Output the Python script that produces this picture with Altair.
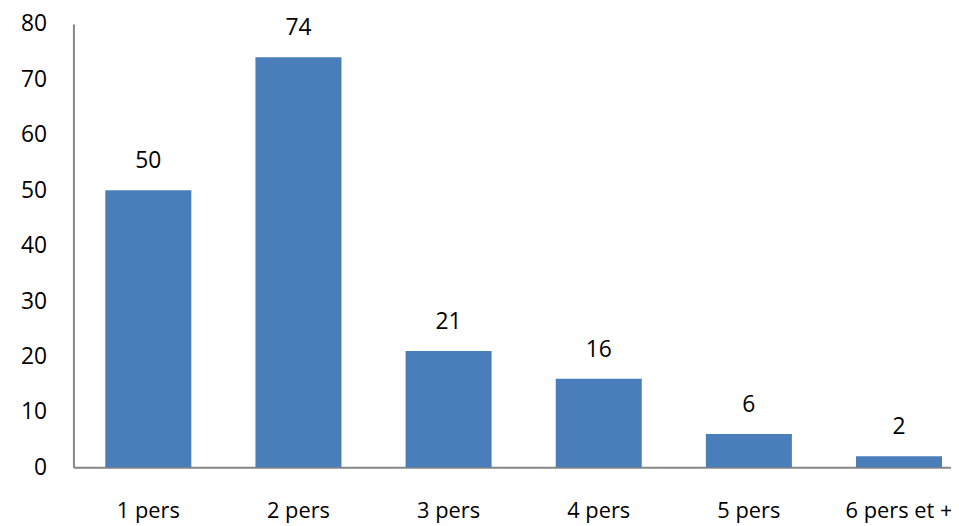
import altair as alt
import pandas as pd

categories = ["1 pers", "2 pers", "3 pers", "4 pers", "5 pers", "6 pers et +"]
values = [50, 74, 21, 16, 6, 2]
y_ticks = [0, 10, 20, 30, 40, 50, 60, 70, 80]

df = pd.DataFrame({"cat": categories, "val": values})

FONT = "Open Sans"
FS = 23

x = alt.X(
    "cat:N",
    sort=categories,
    title=None,
    scale=alt.Scale(paddingInner=0.427, paddingOuter=0.136, align=0.78),
    axis=alt.Axis(
        labelAngle=0, labelFont=FONT, labelFontSize=22, labelColor="#000000",
        labelPadding=34, ticks=False, domainColor="#868686", domainWidth=2,
        labelBaseline="top",
    ),
)
y = alt.Y(
    "val:Q",
    title=None,
    scale=alt.Scale(domain=[0, 80], nice=False),
    axis=alt.Axis(
        values=y_ticks, grid=False, ticks=False, labelFont=FONT,
        labelFontSize=FS, labelColor="#000000", labelPadding=27,
        domainColor="#868686", domainWidth=2,
    ),
)

bars = alt.Chart(df).mark_bar(color="#4a7ebb").encode(x=x, y=y)
labels = alt.Chart(df).mark_text(
    font=FONT, fontSize=FS, color="#000000", baseline="middle", dy=-29
).encode(x=x, y=y, text="val:Q")

chart = (
    alt.layer(bars, labels)
    .properties(
        width=885,
        height=447,
        autosize=alt.AutoSizeParams(type="none"),
        padding={"left": 66, "top": 14, "right": 0, "bottom": 57},
    )
    .configure_view(stroke=None)
)

chart.save("out.html", embed_options={"renderer": "svg", "actions": False})
